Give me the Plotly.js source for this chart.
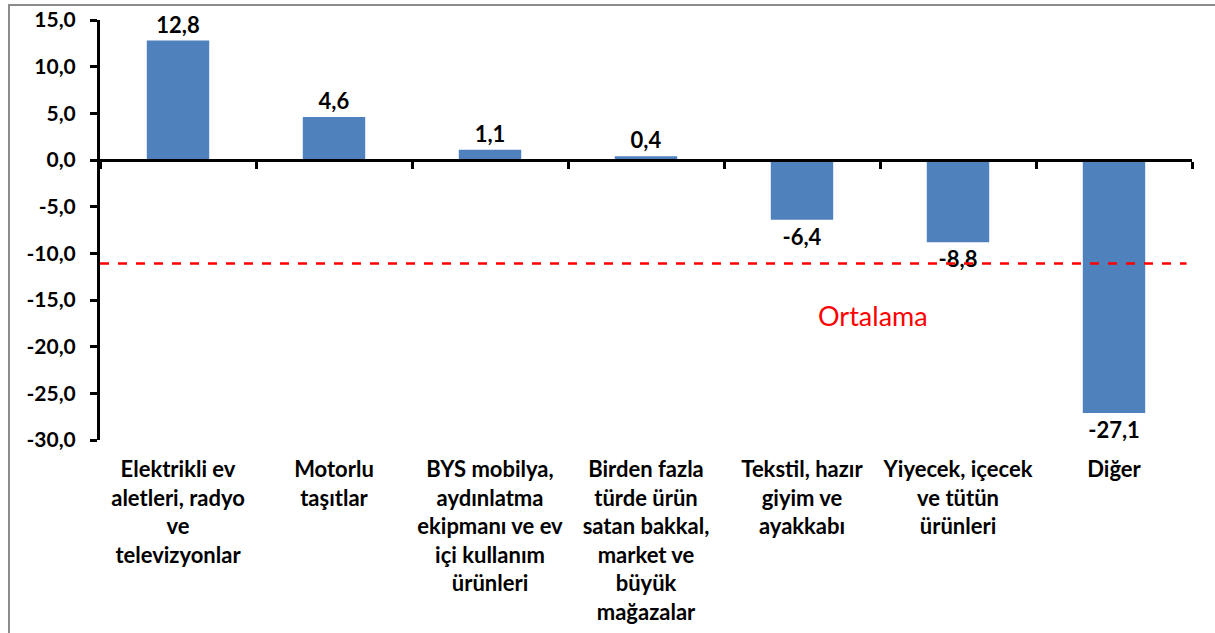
<!DOCTYPE html>
<html><head><meta charset="utf-8">
<script src="https://cdn.plot.ly/plotly-3.0.1.min.js"></script>
<style>
html,body{margin:0;padding:0;background:#fff;}
#chart{width:1215px;height:633px;}
#frame{position:absolute;left:8px;top:4px;width:1300px;height:700px;border-left:2px solid #8c8c8c;border-top:2px solid #8c8c8c;pointer-events:none;}
</style></head>
<body>
<div id="chart"></div>
<div id="frame"></div>
<script>
const categories = [
  "Elektrikli ev<br>aletleri, radyo<br>ve<br>televizyonlar",
  "Motorlu<br>taşıtlar",
  "BYS mobilya,<br>aydınlatma<br>ekipmanı ve ev<br>içi kullanım<br>ürünleri",
  "Birden fazla<br>türde ürün<br>satan bakkal,<br>market ve<br>büyük<br>mağazalar",
  "Tekstil, hazır<br>giyim ve<br>ayakkabı",
  "Yiyecek, içecek<br>ve tütün<br>ürünleri",
  "Diğer"
];
const values = [12.8, 4.6, 1.1, 0.4, -6.4, -8.8, -27.1];
const averageValue = -11.1;
const averageLabel = "Ortalama";
const yTickVals = [15, 10, 5, 0, -5, -10, -15, -20, -25, -30];

const FONT = "Lato, Calibri, 'Liberation Sans', sans-serif";
const fmt = v => v.toFixed(1).replace('.', ',');
const boundaries = [];
for (let i = 0; i <= categories.length; i++) boundaries.push(i - 0.5);

const data = [{
  type: 'bar',
  x: categories,
  y: values,
  marker: {color: '#4F81BD'},
  width: 0.4,
  text: values.map(fmt),
  textposition: 'outside',
  textfont: {family: FONT, size: 22, color: '#000', weight: 'bold'},
  cliponaxis: false,
  hoverinfo: 'none'
}, {
  type: 'scatter', x: [0], y: [0], xaxis: 'x2', yaxis: 'y',
  mode: 'markers', marker: {opacity: 0}, hoverinfo: 'none'
}];

const layout = {
  width: 1215, height: 633,
  margin: {l: 100, r: 23, t: 20, b: 193},
  paper_bgcolor: '#fff', plot_bgcolor: 'rgba(0,0,0,0)',
  showlegend: false,
  font: {family: FONT, color: '#000'},
  xaxis: {
    type: 'category',
    range: [-0.5, categories.length - 0.5],
    showline: false, ticks: '', showgrid: false, zeroline: false,
    tickfont: {family: FONT, size: 22, color: '#000', weight: 'bold'},
    ticklabelstandoff: 14,
    fixedrange: true
  },
  xaxis2: {
    overlaying: 'x', anchor: 'free', position: 30/45,
    type: 'linear',
    range: [-0.5, categories.length - 0.5],
    tickvals: boundaries, showticklabels: false,
    showline: true, linecolor: '#000', linewidth: 3,
    ticks: 'outside', ticklen: 7, tickwidth: 3, tickcolor: '#000',
    showgrid: false, zeroline: false
  },
  yaxis: {
    range: [-30, 15],
    tickvals: yTickVals, ticktext: yTickVals.map(fmt),
    showline: true, linecolor: '#000', linewidth: 3,
    ticks: 'outside', ticklen: 7, tickwidth: 3, tickcolor: '#000',
    showgrid: false, zeroline: false,
    tickfont: {family: FONT, size: 21, color: '#000', weight: 'bold'},
    ticklabelstandoff: 10
  },
  shapes: [{
    type: 'line', xref: 'paper', yref: 'y',
    x0: 0, x1: 0.995, y0: averageValue, y1: averageValue,
    line: {color: '#FF0000', width: 2.5, dash: 'dash'}
  }],
  annotations: [{
    xref: 'paper', yref: 'y', x: 0.708, y: -16.7,
    xanchor: 'center', yanchor: 'middle',
    text: averageLabel, showarrow: false,
    font: {family: FONT, size: 27, color: '#FF0000'}
  }]
};

Plotly.newPlot('chart', data, layout, {staticPlot: true});
</script>
</body></html>
